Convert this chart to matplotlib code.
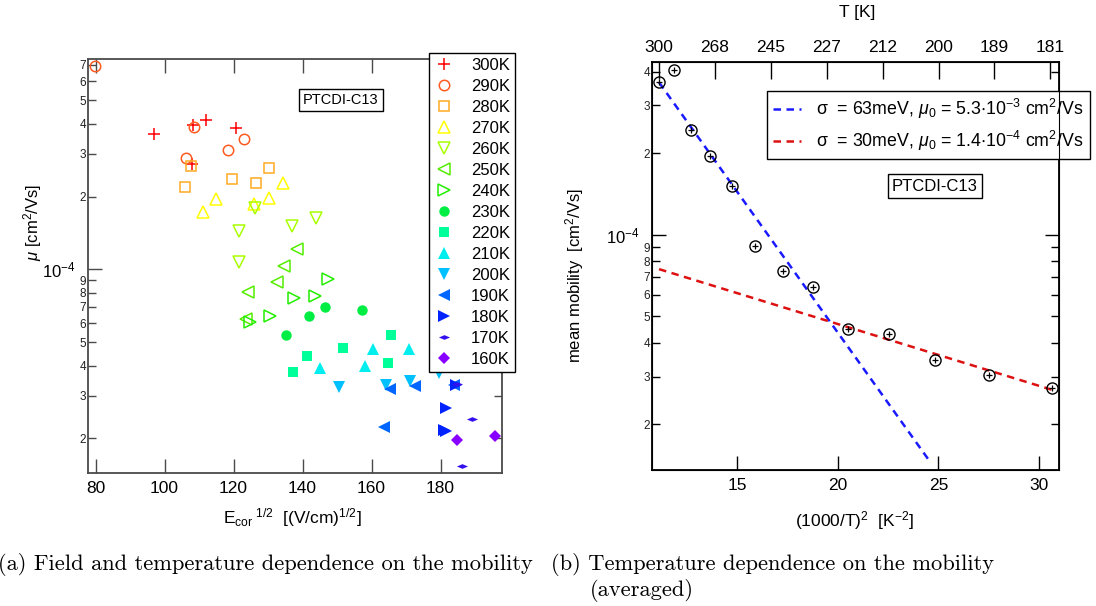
import numpy as np
import matplotlib
matplotlib.use('Agg')
import matplotlib.pyplot as plt
from matplotlib.markers import MarkerStyle
from matplotlib.path import Path
from matplotlib.ticker import FixedLocator, FuncFormatter, NullLocator

# ---------------- data: left panel (field & temperature dependence) ----------------
temperatures = ['300K', '290K', '280K', '270K', '260K', '250K', '240K', '230K',
                '220K', '210K', '200K', '190K', '180K', '170K', '160K']

x_300 = [97.0, 108.3, 112.0, 120.6, 107.9]
y_300 = [3.62e-4, 3.95e-4, 4.14e-4, 3.85e-4, 2.72e-4]
x_290 = [79.8, 108.6, 106.3, 118.4, 123.1]
y_290 = [6.95e-4, 3.89e-4, 2.90e-4, 3.13e-4, 3.45e-4]
x_280 = [107.7, 106.0, 119.6, 126.4, 130.3]
y_280 = [2.68e-4, 2.20e-4, 2.36e-4, 2.27e-4, 2.62e-4]
x_270 = [111.2, 114.8, 126.0, 130.3, 134.3]
y_270 = [1.73e-4, 1.95e-4, 1.86e-4, 1.98e-4, 2.28e-4]
x_260 = [126.2, 121.6, 137.0, 143.8, 121.6]
y_260 = [1.80e-4, 1.44e-4, 1.51e-4, 1.63e-4, 1.07e-4]
x_250 = [138.4, 134.6, 132.5, 124.3, 123.7]
y_250 = [1.21e-4, 1.03e-4, 8.84e-5, 8.03e-5, 6.21e-5]
x_240 = [147.5, 137.5, 143.6, 130.6, 124.7]
y_240 = [9.12e-5, 7.59e-5, 7.76e-5, 6.41e-5, 6.07e-5]
x_230 = [135.2, 142.0, 146.6, 157.2]
y_230 = [5.38e-5, 6.43e-5, 6.96e-5, 6.79e-5]
x_220 = [137.2, 141.2, 151.6, 165.5, 164.9]
y_220 = [3.76e-5, 4.38e-5, 4.73e-5, 5.38e-5, 4.11e-5]
x_210 = [145.0, 158.0, 160.3, 170.9]
y_210 = [3.93e-5, 3.98e-5, 4.71e-5, 4.71e-5]
x_200 = [150.5, 164.1, 171.2, 179.6]
y_200 = [3.25e-5, 3.33e-5, 3.45e-5, 3.72e-5]
x_190 = [165.4, 172.7, 163.5, 183.8]
y_190 = [3.20e-5, 3.30e-5, 2.23e-5, 3.33e-5]
x_180 = [181.5, 180.9, 181.6, 184.4]
y_180 = [2.68e-5, 2.17e-5, 2.15e-5, 3.33e-5]
x_170 = [189.0, 186.1, 184.8]
y_170 = [2.40e-5, 1.54e-5, 3.35e-5]
x_160 = [184.9, 195.7]
y_160 = [1.97e-5, 2.05e-5]

# ---------------- data: right panel (averaged mobility vs (1000/T)^2) ----------------
inv_t2 = [11.11, 11.85, 12.68, 13.64, 14.74, 15.90, 17.26, 18.78, 20.52,
          22.56, 24.85, 27.51, 30.65]
mean_mobility = [3.65e-4, 4.07e-4, 2.43e-4, 1.95e-4, 1.51e-4, 9.12e-5, 7.38e-5,
                 6.41e-5, 4.48e-5, 4.30e-5, 3.45e-5, 3.03e-5, 2.73e-5]
fit63_x = [11.11, 24.60]
fit63_y = [3.65e-4, 1.45e-5]
fit30_x = [11.11, 30.65]
fit30_y = [7.47e-5, 2.68e-5]
top_tick_labels = ['300', '268', '245', '227', '212', '200', '189', '181']

# ---------------- figure ----------------
W, H = 1096, 606
fig = plt.figure(figsize=(W / 100, H / 100), dpi=100)
plt.rcParams['mathtext.fontset'] = 'custom'
plt.rcParams['mathtext.rm'] = 'Liberation Sans'
plt.rcParams['mathtext.it'] = 'Liberation Sans:italic'
plt.rcParams['mathtext.default'] = 'regular'
SANS = 'Liberation Sans'


def rect(x0, y0, x1, y1):
    return [x0 / W, 1 - y1 / H, (x1 - x0) / W, (y1 - y0) / H]


def fp(x, y):
    return x / W, 1 - y / H


def setup_log_y(ax, minors, color):
    ax.set_yscale('log')
    ax.yaxis.set_major_locator(FixedLocator([1e-4]))
    ax.yaxis.set_major_formatter(FuncFormatter(lambda v, p: r'10$^{-4}$'))
    ax.yaxis.set_minor_locator(FixedLocator(minors))
    ax.yaxis.set_minor_formatter(FuncFormatter(lambda v, p: '%d' % round(v / 10 ** np.floor(np.log10(v) + 1e-9))))
    ax.tick_params(axis='y', which='major', length=10, width=1.0, direction='in',
                   left=True, right=True, labelsize=12, pad=9, colors=color, labelcolor='black')
    ax.tick_params(axis='y', which='minor', length=6, width=1.0, direction='in',
                   left=True, right=True, labelsize=8.5, pad=1.5, colors=color, labelcolor='#222222')
    for lab in ax.get_yticklabels(which='both'):
        lab.set_family(SANS)


MU = r'$\mathit{\mu}$'

# ---------------- left panel ----------------
gray = '#4a4a4a'
axL = fig.add_axes(rect(88, 59, 502, 473))
flat_diamond = MarkerStyle(Path([(-1, 0), (0, 0.42), (1, 0), (0, -0.42), (-1, 0)],
                                [Path.MOVETO, Path.LINETO, Path.LINETO, Path.LINETO, Path.CLOSEPOLY]))
colors = ['#ff0000', '#ff5a1f', '#ffaa22', '#ffff00', '#aaff00', '#55ee00', '#22ee00',
          '#00ee44', '#00ff99', '#00eeee', '#00c0ff', '#0066ff', '#0022ff', '#3311ee', '#8800ff']
markers = ['+', 'o', 's', '^', 'v', '<', '>', 'o', 's', '^', 'v', '<', '>', flat_diamond, 'D']
filled = [False] * 7 + [True] * 8
sizes = [9, 7.5, 7.5, 8, 8, 8, 8, 7.5, 7.5, 8, 8, 8, 8, 8, 6]
xs = [x_300, x_290, x_280, x_270, x_260, x_250, x_240, x_230, x_220, x_210, x_200, x_190, x_180, x_170, x_160]
ys = [y_300, y_290, y_280, y_270, y_260, y_250, y_240, y_230, y_220, y_210, y_200, y_190, y_180, y_170, y_160]

for lab, xv, yv, c, m, f, s in zip(temperatures, xs, ys, colors, markers, filled, sizes):
    if m == '+':
        axL.plot(xv, yv, linestyle='none', marker=m, color=c, markersize=s, mew=1.1, label=lab)
    elif f:
        axL.plot(xv, yv, linestyle='none', marker=m, color=c, markersize=s, mew=0, label=lab)
    else:
        axL.plot(xv, yv, linestyle='none', marker=m, markerfacecolor='none', markeredgecolor=c,
                 markersize=s, mew=1.1, label=lab)

axL.set_xlim(77.8, 197.8)
axL.set_ylim(1.44e-5, 7.41e-4)
setup_log_y(axL, [2e-5, 3e-5, 4e-5, 5e-5, 6e-5, 7e-5, 8e-5, 9e-5,
                  2e-4, 3e-4, 4e-4, 5e-4, 6e-4, 7e-4], gray)
axL.set_xticks([80, 100, 120, 140, 160, 180])
axL.tick_params(axis='x', which='major', length=10, width=1.0, direction='in', top=True,
                bottom=True, labelsize=12.5, pad=6, colors=gray, labelcolor='black')
axL.xaxis.set_minor_locator(NullLocator())
for lab in axL.get_xticklabels():
    lab.set_family(SANS)
for sp in axL.spines.values():
    sp.set_color(gray)
    sp.set_linewidth(1.3)

legL = axL.legend(loc='upper right', bbox_to_anchor=fp(515, 53), bbox_transform=fig.transFigure,
                  frameon=True, fancybox=False, edgecolor='black', framealpha=1,
                  prop={'family': SANS, 'size': 12}, handlelength=1.2, handletextpad=1.0,
                  labelspacing=0.36, borderpad=0.3, borderaxespad=0, numpoints=1)
legL.get_frame().set_linewidth(1.0)

axL.text(*fp(341, 100), 'PTCDI-C13', transform=fig.transFigure, ha='center', va='center',
         family=SANS, fontsize=10.5,
         bbox=dict(boxstyle='square,pad=0.28', facecolor='white', edgecolor='black', linewidth=1.0))

fig.text(*fp(33, 222), MU + r' [cm$^2$/Vs]', rotation=90, ha='center', va='center',
         family=SANS, fontsize=12)
fig.text(*fp(292, 518), r'E$_{cor}$$^{\ 1/2}$  [(V/cm)$^{1/2}$]', ha='center', va='center',
         family=SANS, fontsize=12.5)

# ---------------- right panel ----------------
axR = fig.add_axes(rect(652, 62, 1059, 470))
axR.plot(fit63_x, fit63_y, linestyle=(0, (3, 2.2)), color='#1a1aff', lw=1.8,
         label=r'$\sigma$  = 63meV, ' + MU + r'$_0$ = 5.3$\cdot$10$^{-3}$ cm$^2$/Vs')
axR.plot(fit30_x, fit30_y, linestyle=(0, (3, 2.2)), color='#dd1111', lw=1.8,
         label=r'$\sigma$  = 30meV, ' + MU + r'$_0$ = 1.4$\cdot$10$^{-4}$ cm$^2$/Vs')
axR.plot(inv_t2, mean_mobility, linestyle='none', marker='o', markerfacecolor='none',
         markeredgecolor='black', markersize=8, mew=1.0)
axR.plot(inv_t2, mean_mobility, linestyle='none', marker='+', color='black', markersize=5, mew=0.9)

xlo, xhi = 10.76, 31.0
axR.set_xlim(xlo, xhi)
axR.set_ylim(1.356e-5, 4.34e-4)
setup_log_y(axR, [2e-5, 3e-5, 4e-5, 5e-5, 6e-5, 7e-5, 8e-5, 9e-5, 2e-4, 3e-4, 4e-4], 'black')
axR.set_xticks([15, 20, 25, 30])
axR.xaxis.set_minor_locator(NullLocator())
axR.tick_params(axis='x', which='major', length=10, width=1.0, direction='in', top=False,
                bottom=True, labelsize=12.5, pad=6)
for lab in axR.get_xticklabels():
    lab.set_family(SANS)
for sp in axR.spines.values():
    sp.set_linewidth(1.3)

axT = axR.twiny()
axT.set_xlim(xlo, xhi)
axT.set_xticks(np.linspace(11.11, 30.57, len(top_tick_labels)))
axT.set_xticklabels(top_tick_labels, family=SANS, fontsize=12.5)
axT.xaxis.set_minor_locator(NullLocator())
axT.tick_params(axis='x', which='major', length=12, width=1.0, direction='in', pad=5)

legR = axR.legend(loc='upper right', bbox_to_anchor=fp(1090, 90.7), bbox_transform=fig.transFigure,
                  frameon=True, fancybox=False, edgecolor='black', framealpha=1,
                  prop={'family': SANS, 'size': 12.8}, handlelength=1.6, handletextpad=0.85,
                  labelspacing=0.45, borderpad=0.35, borderaxespad=0)
legR.get_frame().set_linewidth(1.0)

axR.text(*fp(935, 186), 'PTCDI-C13', transform=fig.transFigure, ha='center', va='center',
         family=SANS, fontsize=12,
         bbox=dict(boxstyle='square,pad=0.25', facecolor='white', edgecolor='black', linewidth=1.0))

fig.text(*fp(575, 275), r'mean mobility  [cm$^2$/Vs]', rotation=90, ha='center', va='center',
         family=SANS, fontsize=12)
fig.text(*fp(855, 521), r'(1000/T)$^2$  [K$^{-2}$]', ha='center', va='center',
         family=SANS, fontsize=12.5)
fig.text(*fp(857, 13), 'T [K]', ha='center', va='center', family=SANS, fontsize=12.5)

# ---------------- captions ----------------
cap = dict(family='cmr10', fontsize=16.2, ha='left', va='center')
fig.text(*fp(-2, 565), '(a) Field and temperature dependence on the mobility', **cap)
fig.text(*fp(551, 565), '(b) Temperature dependence on the mobility', **cap)
fig.text(*fp(590, 590), '(averaged)', **cap)

fig.savefig('out.png', dpi=100)
